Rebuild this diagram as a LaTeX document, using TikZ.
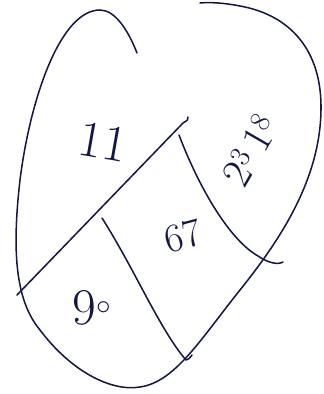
\documentclass[tikz,border=0pt]{standalone}
\usepackage{tikz}
\usetikzlibrary{positioning, calc}

\definecolor{ink}{RGB}{20,22,70}

\begin{document}
\begin{tikzpicture}[
        x=0.03cm, y=-0.03cm,
        pen/.style={draw=ink, line width=1.3pt, line cap=round, line join=round},
        digits/.style={text=ink, inner sep=0pt, font=\fontsize{44}{44}\selectfont}
    ]
        \useasboundingbox (0,0) rectangle (323,394);

        % outline
        \draw [pen] (137,53) .. controls (128,30) and (115,10) .. (100,10)
            .. controls (60,10) and (30,100) .. (20,180)
            .. controls (12,250) and (15,300) .. (40,330)
            .. controls (70,370) and (110,392) .. (140,387)
            .. controls (175,382) and (200,340) .. (240,290)
            .. controls (280,240) and (320,180) .. (321,110)
            .. controls (322,50) and (290,15) .. (240,6)
            .. controls (225,3) and (210,2) .. (200,3);

        % dividers
        \coordinate (lineA) at (17,295);
        \coordinate (lineB) at (183,123);
        \coordinate (hook) at (188,117);
        \coordinate (topA) at (102,218);
        \coordinate (botA) at (186,360);
        \coordinate (topB) at (179,135);
        \coordinate (botB) at (283,262);

        \draw [pen] (lineA) -- (lineB) .. controls (188,120) .. (hook);
        \draw [pen] (topA) .. controls (135,270) and (160,330) .. (botA)
            .. controls (189,359) .. (192,355);
        \draw [pen] (topB) .. controls (200,190) and (230,240) .. (258,256)
            .. controls (268,263) and (278,265) .. (botB);

        % labels
        \node [digits, rotate=-10] (eleven) at (103,142) {11};
        \node [digits] (ninety) at (92,308) {9$^{\circ}$};
        \node [digits, rotate=15, font=\fontsize{34}{34}\selectfont] (sixty) at (183,236) {67};
        \node [digits, rotate=60, font=\fontsize{36}{36}\selectfont] (power) at (250,150) {2$^{3}$\,1$^{8}$};
    \end{tikzpicture}
\end{document}
